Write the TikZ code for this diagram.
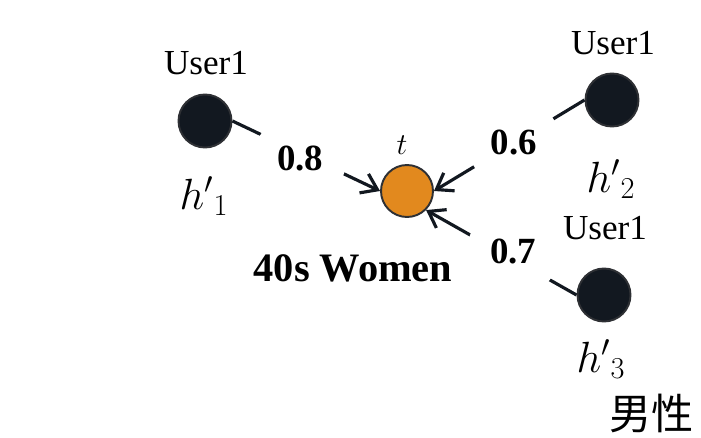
\documentclass[tikz,border=0pt]{standalone}
\usepackage{fontspec}
\setmainfont{Liberation Serif}
\newfontfamily\cjk{Noto Sans CJK SC}
\usetikzlibrary{arrows.meta}

\definecolor{oscuro}{HTML}{121820}
\definecolor{borde}{HTML}{2E3034}
\definecolor{naranja}{HTML}{E2891E}

\begin{document}
\begin{tikzpicture}[
    x=0.02cm,
    y=-0.02cm,
    usuario/.style={circle, draw=borde, fill=oscuro, line width=1.1pt, minimum size=1.06cm, inner sep=0pt},
    objetivo/.style={circle, draw=borde, fill=naranja, line width=1.1pt, minimum size=1.04cm, inner sep=0pt},
    enlace/.style={draw=oscuro, line width=1.8pt, -{Straight Barb[length=0.3cm, width=0.42cm]}},
    peso/.style={circle, fill=white, minimum size=1.85cm, inner sep=0pt, font=\fontsize{21}{24}\selectfont\bfseries},
    nombre/.style={font=\fontsize{20}{23}\selectfont},
    vector/.style={font=\fontsize{24}{28}\selectfont}
]
\useasboundingbox (0,0) rectangle (701,437);

% Nodo central
\node[objetivo] (t) at (407,191) {};
\node[font=\fontsize{19}{22}\selectfont] (tl) at (402,145) {$t$};
\node[font=\fontsize{23}{27}\selectfont\bfseries, anchor=base] (grupo) at (353,281) {40s Women};

% Usuarios / posición / etiqueta del vector
\foreach \nom/\px/\py/\ly/\vx/\vy [count=\i] in {
    u1/205/121/63/204/196,
    u2/612/100/43/611/179,
    u3/604/295/228/601/359}
{
    \node[usuario] (\nom) at (\px,\py) {};
    \node[nombre] (\nom-n) at (\px+1,\ly) {User1};
    \node[vector] (\nom-h) at (\vx,\vy) {$h'{}_{\i}$};
}

% Enlaces con peso
\draw[enlace] (u1.east) -- node[peso, pos=0.46, yshift=-0.1cm] (w1) {0.8} (t.west);
\draw[enlace] (u2.west) -- node[peso, pos=0.47] (w2) {0.6} (t.east);
\draw[enlace] (u3.west) -- node[peso, pos=0.42, yshift=0.16cm] (w3) {0.7} (t.south east);

\node[font=\cjk\fontsize{24}{28}\selectfont, anchor=west, inner sep=0pt] (sexo) at (609,413) {男性};

\end{tikzpicture}
\end{document}
